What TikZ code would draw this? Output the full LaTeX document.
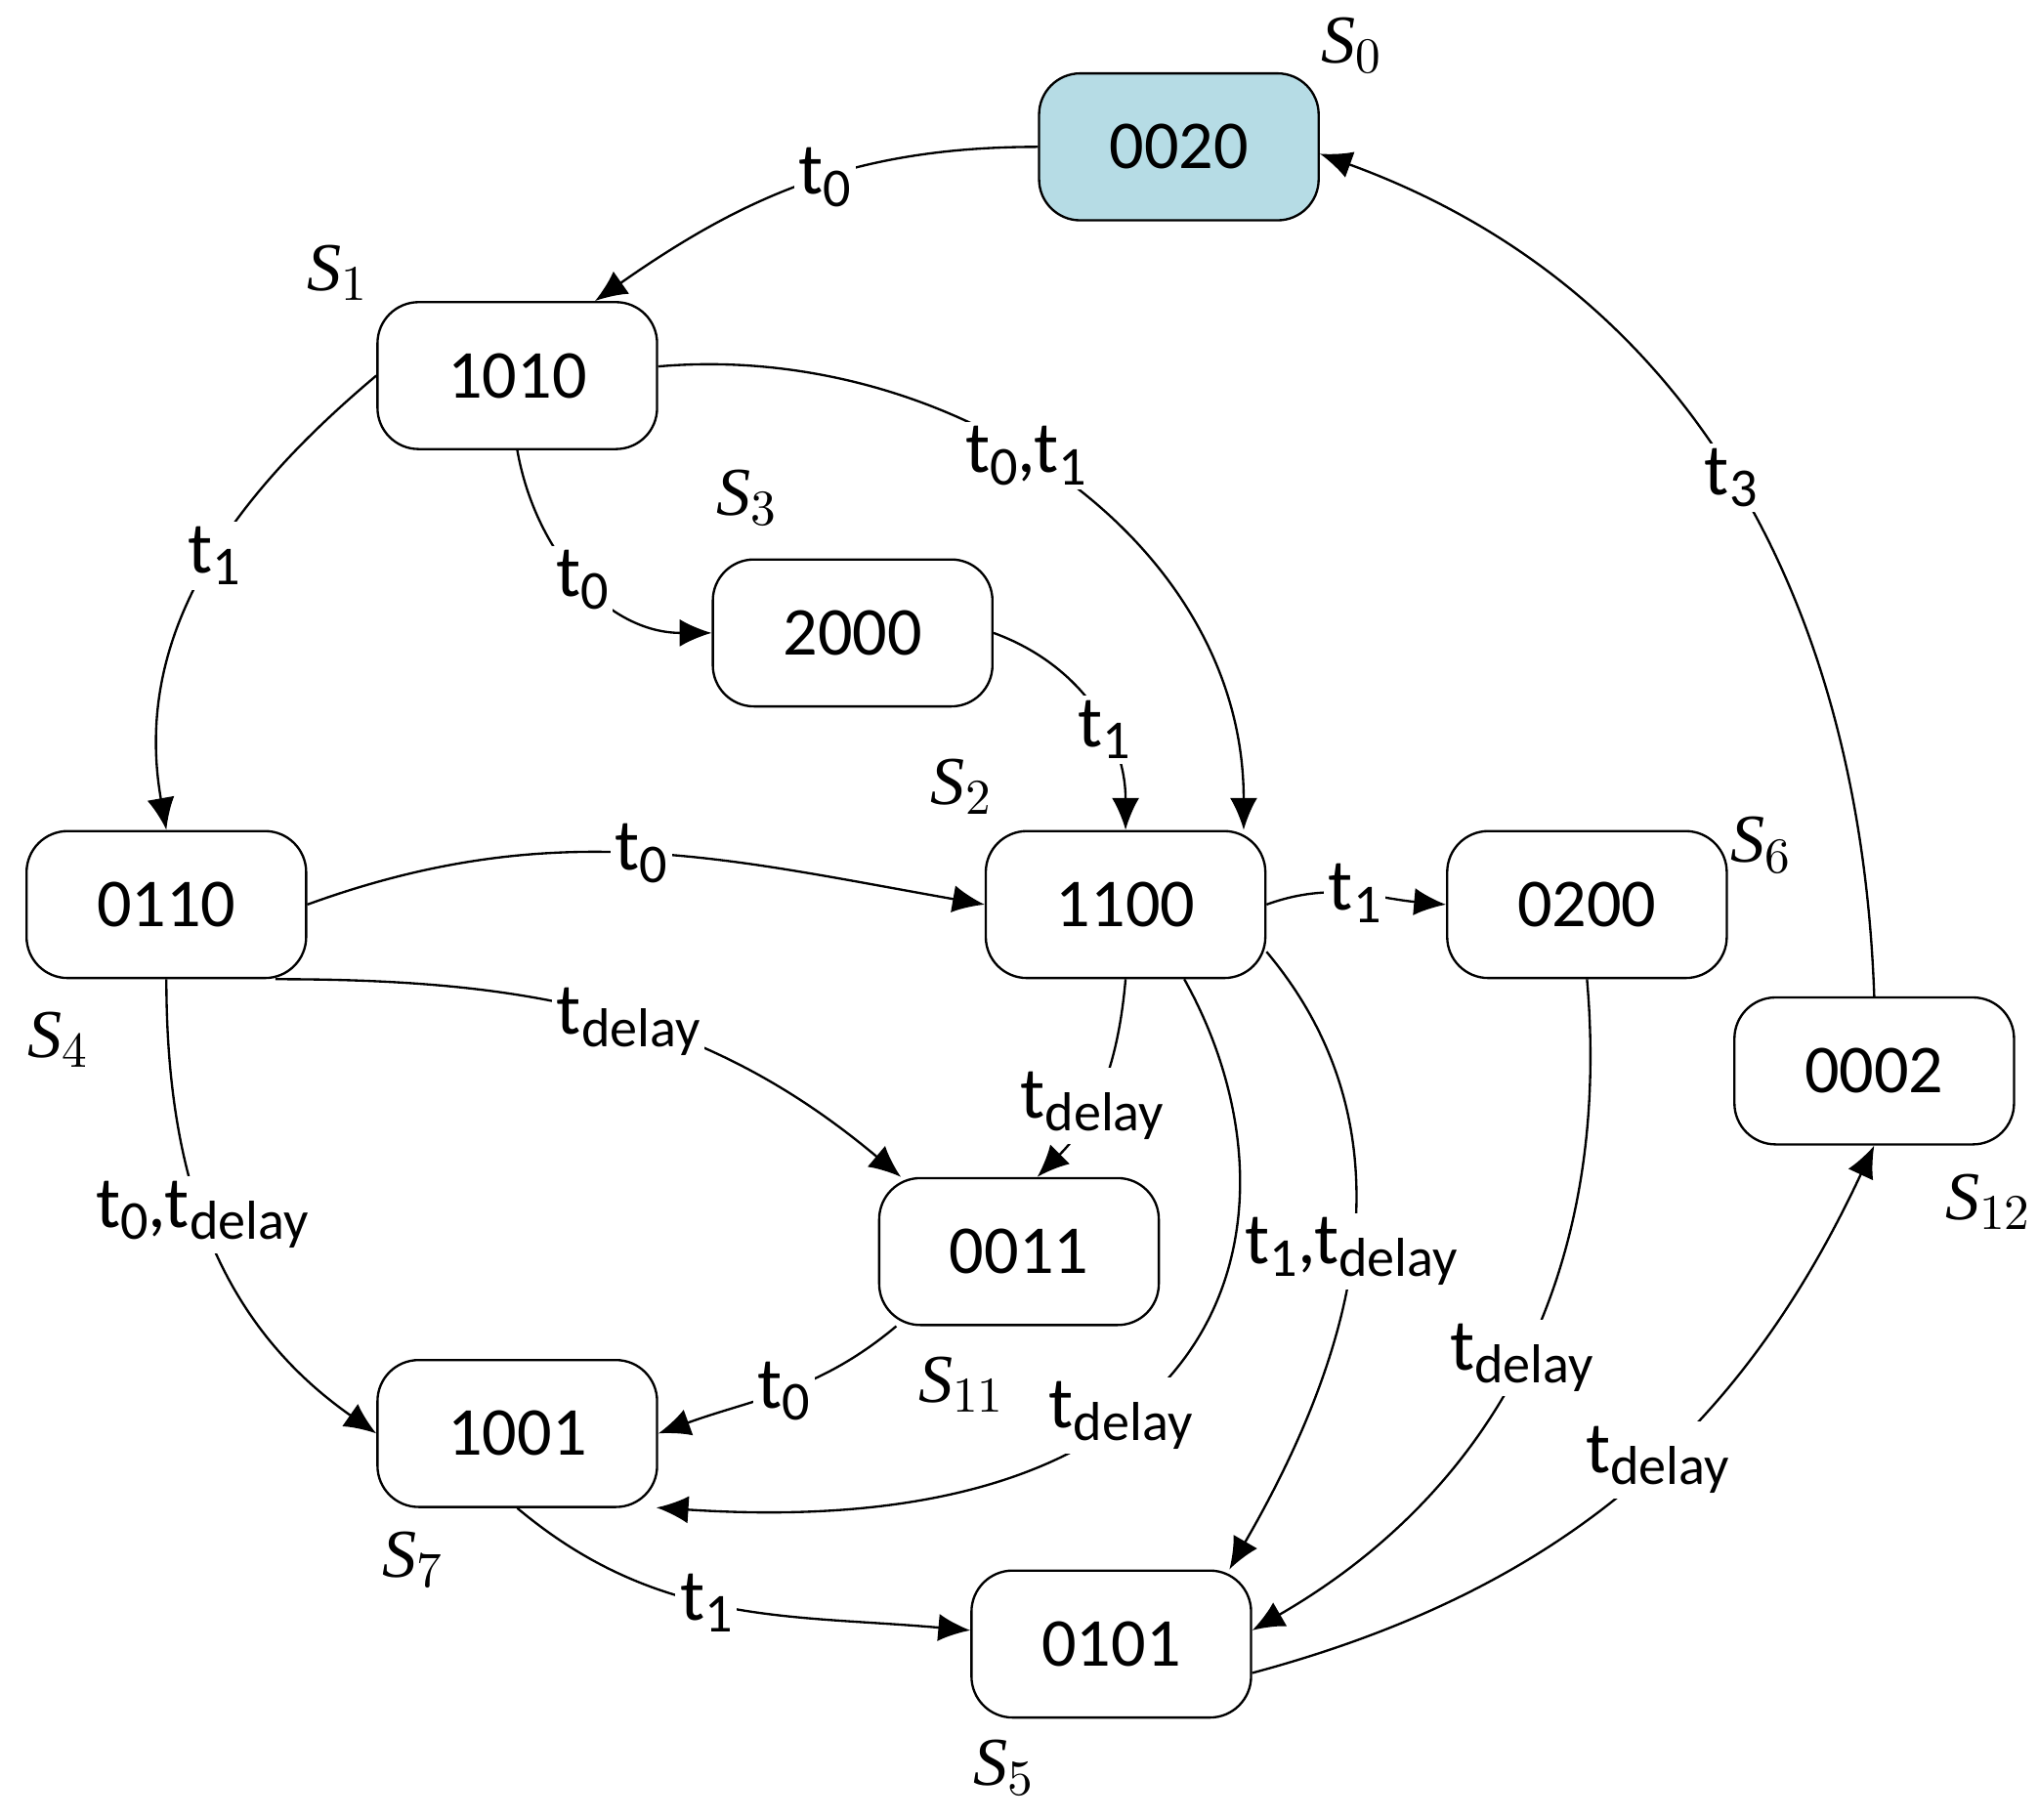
\documentclass[tikz,border=0pt]{standalone}
\usepackage{fontspec}
\setmainfont{Liberation Serif}
\newfontfamily\lab{Carlito}
\usetikzlibrary{arrows.meta}
\newcommand\tsb[1]{t\raisebox{-0.35ex}{\fontsize{12}{12}\selectfont #1}}
\begin{document}
\begin{tikzpicture}[x=0.01cm,y=-0.01cm,
  st/.style={draw,rounded corners=9pt,minimum width=2.15cm,minimum height=1.13cm,font=\lab\fontsize{15}{17}\selectfont,line width=0.5pt},
  sl/.style={font=\fontsize{15}{17}\selectfont\itshape},
  e/.style={-{Latex[length=7pt,width=6pt]},line width=0.5pt},
  lb/.style={fill=white,inner sep=1pt,font=\lab\fontsize{16}{18}\selectfont}]
\useasboundingbox (0,0) rectangle (1568,1400);
\node[st,fill={rgb,255:red,182;green,220;blue,229}] (s0) at (907,113) {0020};
\node[st] (s1) at (398,289) {1010};
\node[st] (s3) at (656,487) {2000};
\node[st] (s4) at (128,696) {0110};
\node[st] (s2) at (866,696) {1100};
\node[st] (s6) at (1221,696) {0200};
\node[st] (s12) at (1442,824) {0002};
\node[st] (s11) at (784,963) {0011};
\node[st] (s7) at (398,1103) {1001};
\node[st] (s5) at (855,1265) {0101};
\node[sl] (l0) at (1040,35) {S$_0$};
\node[sl] (l1) at (260,210) {S$_1$};
\node[sl] (l3) at (575,383) {S$_3$};
\node[sl] (l2) at (740,605) {S$_2$};
\node[sl] (l6) at (1355,650) {S$_6$};
\node[sl] (l4) at (45,800) {S$_4$};
\node[sl] (l12) at (1530,925) {S$_{12}$};
\node[sl] (l11) at (740,1065) {S$_{11}$};
\node[sl] (l7) at (318,1200) {S$_7$};
\node[sl] (l5) at (773,1360) {S$_5$};
\coordinate (c27) at (505,1160);
\draw[e] (s0.west) to[out=180,in=35] node[lb,pos=0.45]{\tsb{0}} ([xshift=17]s1.north);
\draw[e] (s12.north) to[out=92,in=-20] node[lb,pos=0.5]{\tsb{3}} ([yshift=-1.5]s0.east);
\draw[e] (s1.west) to[out=-140,in=100] node[lb,pos=0.45]{\tsb{1}} (s4.north);
\draw[e] (s1.south) to[out=-80,in=180] node[lb,pos=0.5]{\tsb{0}} (s3.west);
\draw[e] ([yshift=2]s1.east) to[out=5,in=90] node[lb,pos=0.45]{\tsb{0},\tsb{1}} ([xshift=-5]s2.north east);
\draw[e] (s3.east) to[out=-20,in=90] node[lb,pos=0.6]{\tsb{1}} (s2.north);
\draw[e] (s4.east) to[out=20,in=170] node[lb,pos=0.5]{\tsb{0}} (s2.west);
\draw[e] (s2.east) to[out=20,in=175] node[lb,pos=0.5]{\tsb{1}} (s6.west);
\draw[e] ([xshift=-7]s4.south east) to[out=0,in=140] node[lb,pos=0.53]{\tsb{delay}} ([xshift=5]s11.north west);
\draw[e] (s2.south) to[out=-95,in=45] node[lb,pos=0.6]{\tsb{delay}} ([xshift=4]s11.north);
\draw[e] (s4.south) to[out=-90,in=145] node[lb,pos=0.45]{\tsb{0},\tsb{delay}} (s7.west);
\draw[e] ([xshift=4]s11.south west) to[out=-140,in=20] node[lb,pos=0.5]{\tsb{0}} (s7.east);
\draw[e] ([xshift=-18]s2.south east) .. controls (1010,930) and (960,1190) .. node[lb,pos=0.62]{\tsb{delay}} (c27);
\draw[e] ([yshift=6]s2.south east) to[out=-50,in=60] node[lb,pos=0.5]{\tsb{1},\tsb{delay}} ([xshift=-5]s5.north east);
\draw[e] (s6.south) to[out=-85,in=30] node[lb,pos=0.5]{\tsb{delay}} ([yshift=3]s5.east);
\draw[e] (s7.south) to[out=-40,in=175] node[lb,pos=0.45]{\tsb{1}} ([yshift=3]s5.west);
\draw[e] ([yshift=10]s5.south east) to[out=15,in=-115] node[lb,pos=0.55]{\tsb{delay}} (s12.south);
\end{tikzpicture}
\end{document}
